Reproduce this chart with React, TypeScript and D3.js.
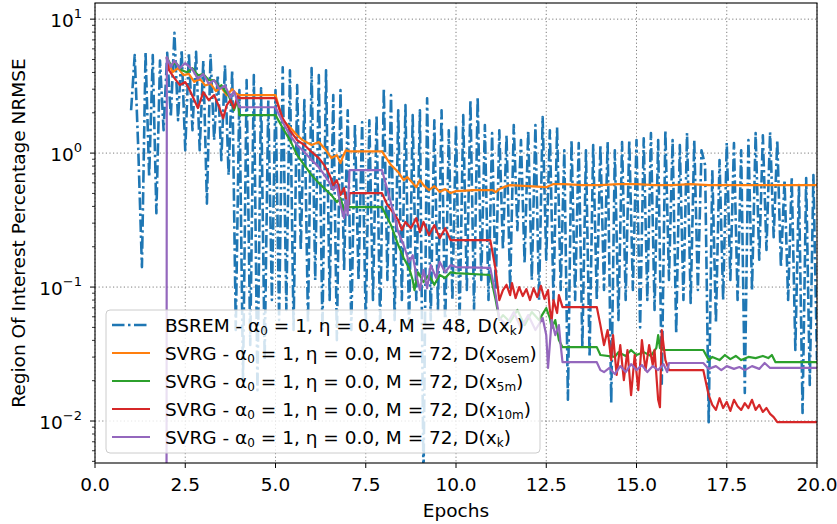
import React from "react";
import * as d3 from "d3";

// ---------- data ----------
const BSREM_START = 1.0;
const BSREM_STEP = 0.1;
const bsremValues = [
  2.09, 5.4, 1.05, 0.141, 5.7, 0.662, 5.4, 0.356, 4.9, 1.48,
  5.6, 1.86, 7.9, 1.76, 5.9, 1.05, 5.6, 1.48, 5.7, 1.05,
  4.9, 0.42, 5.4, 1.25, 3.82, 0.887, 4.54, 0.685, 4.16, 0.0478,
  2.95, 0.0202, 3.51, 0.0369, 3.82, 0.017, 3.05, 0.0285, 2.49, 0.08,
  2.95, 0.0567, 4.38, 0.0674, 4.16, 0.0478, 3.22, 0.189, 2.49, 0.054,
  4.31, 0.113, 3.82, 0.0478, 4.16, 0.08, 2.71, 0.0402, 2.95, 0.134,
  2.09, 0.0478, 1.62, 0.113, 1.70, 0.052, 1.76, 0.08, 1.92, 0.0478,
  3.05, 0.113, 2.71, 0.0567, 2.09, 0.08, 2.28, 0.0478, 1.92, 0.08,
  2.09, 0.0036, 2.57, 0.0567, 1.76, 0.0674, 2.09, 0.0478, 1.48, 0.08,
  1.62, 0.0567, 1.92, 0.095, 2.49, 0.0674, 2.62, 0.113, 1.62, 0.08,
  1.41, 0.095, 1.48, 0.189, 1.36, 0.095, 1.62, 0.266, 1.25, 0.151,
  1.48, 0.113, 1.62, 0.08, 1.86, 0.16, 1.48, 0.08, 1.56, 0.095,
  1.05, 0.0144, 1.25, 0.08, 1.19, 0.0356, 1.05, 0.0301, 1.15, 0.08,
  1.15, 0.095, 1.21, 0.0136, 1.05, 0.0567, 1.21, 0.08, 1.25, 0.095,
  1.25, 0.05, 1.29, 0.08, 1.41, 0.0674, 1.25, 0.019, 1.48, 0.113,
  1.25, 0.045, 1.15, 0.08, 1.41, 0.076, 1.25, 0.095, 1.05, 0.814,
  0.0098, 0.747, 0.054, 0.887, 0.08, 1.19, 0.113, 1.19, 0.08, 1.05,
  0.0162, 1.25, 0.095, 1.41, 0.16, 1.36, 0.189, 1.43, 0.236, 1.25,
  0.141, 0.629, 0.08, 0.662, 0.0339, 0.577, 0.0115, 0.651, 0.0186, 0.685,
  0.0285,
];

type Pt = [number, number];

const svrgOsem: Pt[] = [
  [1.99, 5.2], [2.05, 4.62], [2.15, 4.02], [2.3, 4.31], [2.45, 3.82], [2.6, 3.9], [2.75, 3.4],
  [2.9, 3.6], [3.05, 3.2], [3.2, 3.3], [3.35, 2.9], [3.5, 3.1], [3.65, 2.7], [3.8, 3.0],
  [3.9, 2.8], [4.0, 2.71], [5.0, 2.71], [5.2, 1.76], [5.4, 1.56], [5.6, 1.36], [5.75, 1.25],
  [6.0, 1.15], [6.2, 1.21], [6.4, 1.05], [6.55, 0.918], [6.7, 0.966], [6.8, 0.842],
  [6.85, 0.918], [6.95, 1.05], [7.05, 1.03], [7.95, 1.03], [8.2, 0.814], [8.4, 0.722],
  [8.55, 0.629], [8.65, 0.662], [8.8, 0.597], [8.9, 0.557], [9.0, 0.629], [9.1, 0.577],
  [9.25, 0.53], [9.4, 0.567], [9.55, 0.512], [9.7, 0.539], [9.85, 0.503], [10.0, 0.52],
  [10.5, 0.53], [11.0, 0.53], [11.1, 0.512], [11.2, 0.539], [11.4, 0.567], [11.5, 0.577],
  [12.0, 0.567], [12.5, 0.557], [12.7, 0.587], [13.0, 0.587], [13.5, 0.577], [14.0, 0.577],
  [14.5, 0.587], [15.0, 0.587], [15.5, 0.577], [16.0, 0.577], [16.5, 0.587], [17.0, 0.577],
  [18.0, 0.577], [19.0, 0.577], [20.0, 0.577],
];

const svrg5m: Pt[] = [
  [1.99, 5.2], [2.1, 4.54], [2.25, 4.7], [2.4, 4.16], [2.55, 4.02], [2.7, 4.3], [2.85, 3.8],
  [3.0, 3.9], [3.15, 3.5], [3.3, 3.51], [3.45, 3.1], [3.5, 3.22], [3.6, 2.9], [3.7, 2.71],
  [3.8, 2.3], [3.85, 2.09], [3.95, 2.49], [4.0, 1.92], [5.0, 1.92], [5.2, 1.54], [5.4, 1.25],
  [5.6, 0.966], [5.8, 0.814], [6.0, 0.685], [6.2, 0.597], [6.4, 0.53], [6.55, 0.486],
  [6.7, 0.431], [6.8, 0.462], [6.9, 0.376], [7.0, 0.409], [7.05, 0.395], [7.95, 0.395],
  [8.2, 0.29], [8.4, 0.206], [8.55, 0.165], [8.7, 0.139], [8.8, 0.113], [8.85, 0.095],
  [8.95, 0.129], [9.1, 0.109], [9.25, 0.123], [9.4, 0.104], [9.55, 0.123], [9.7, 0.117],
  [9.85, 0.129], [10.0, 0.127], [10.95, 0.123], [11.1, 0.08], [11.2, 0.0567], [11.3, 0.0618],
  [11.5, 0.0548], [11.7, 0.0674], [11.9, 0.052], [12.1, 0.0651], [12.3, 0.0567], [12.5, 0.0697],
  [12.6, 0.0587], [12.65, 0.0494], [12.75, 0.0567], [12.85, 0.0402], [12.95, 0.0356],
  [13.9, 0.0356], [14.0, 0.0311], [14.4, 0.0301], [14.5, 0.0327], [14.7, 0.0306],
  [14.85, 0.0339], [15.0, 0.0311], [15.2, 0.0327], [15.4, 0.0306], [15.55, 0.0351],
  [15.6, 0.0438], [15.65, 0.0351], [15.75, 0.0339], [16.85, 0.0339], [17.0, 0.0285],
  [17.1, 0.0301], [17.3, 0.0285], [17.45, 0.0311], [17.6, 0.029], [17.75, 0.0306],
  [17.9, 0.0285], [18.1, 0.0301], [18.3, 0.0295], [18.5, 0.0306], [18.65, 0.0295],
  [18.75, 0.0311], [18.85, 0.0275], [20.0, 0.0275],
];

const svrg10m: Pt[] = [
  [1.99, 5.2], [2.05, 4.16], [2.2, 3.63], [2.35, 3.22], [2.5, 3.39], [2.6, 3.05], [2.75, 2.49],
  [2.85, 2.17], [3.0, 2.85], [3.15, 2.49], [3.3, 2.71], [3.45, 2.17], [3.55, 1.82], [3.65, 2.28],
  [3.75, 2.49], [3.85, 2.17], [3.95, 2.66], [4.0, 2.57], [5.0, 2.57], [5.2, 1.82], [5.4, 1.48],
  [5.6, 1.25], [5.8, 1.15], [6.0, 1.02], [6.2, 0.918], [6.35, 0.814], [6.5, 0.685], [6.6, 0.577],
  [6.7, 0.629], [6.8, 0.486], [6.9, 0.548], [7.0, 0.376], [7.05, 0.503], [7.95, 0.503],
  [8.1, 0.409], [8.25, 0.363], [8.4, 0.316], [8.5, 0.266], [8.6, 0.306], [8.75, 0.275],
  [8.9, 0.327], [9.0, 0.257], [9.1, 0.306], [9.25, 0.244], [9.4, 0.29], [9.55, 0.232],
  [9.7, 0.275], [9.85, 0.224], [10.0, 0.224], [10.95, 0.224], [11.1, 0.134], [11.2, 0.08],
  [11.3, 0.095], [11.4, 0.104], [11.5, 0.0871], [11.55, 0.107], [11.65, 0.0828], [11.75, 0.1],
  [11.85, 0.0857], [11.95, 0.0966], [12.05, 0.08], [12.15, 0.098], [12.25, 0.0842],
  [12.35, 0.102], [12.45, 0.0814], [12.55, 0.095], [12.6, 0.0674], [12.65, 0.0567],
  [12.7, 0.08], [12.8, 0.064], [12.85, 0.0871], [12.95, 0.0709], [13.9, 0.0709], [14.0, 0.052],
  [14.1, 0.0369], [14.2, 0.0478], [14.3, 0.0285], [14.35, 0.0438], [14.45, 0.0221],
  [14.55, 0.0369], [14.65, 0.0202], [14.75, 0.0339], [14.85, 0.0156], [14.95, 0.0311],
  [15.05, 0.017], [15.15, 0.0402], [15.25, 0.024], [15.35, 0.0369], [15.45, 0.0262],
  [15.5, 0.0339], [15.6, 0.0144], [15.65, 0.0127], [15.7, 0.0478], [15.8, 0.0285],
  [15.9, 0.024], [16.85, 0.024], [17.0, 0.0156], [17.1, 0.0132], [17.2, 0.0121], [17.3, 0.0148],
  [17.4, 0.0125], [17.5, 0.0139], [17.6, 0.0119], [17.7, 0.0144], [17.8, 0.0129], [17.9, 0.0121],
  [18.0, 0.0136], [18.1, 0.0125], [18.2, 0.0144], [18.3, 0.0121], [18.4, 0.0132], [18.5, 0.0117],
  [18.6, 0.0125], [18.7, 0.0113], [18.8, 0.0107], [18.9, 0.0098], [20.0, 0.0098],
];

const svrgK: Pt[] = [
  [1.98, 0.001], [1.99, 5.2], [2.1, 4.4], [2.2, 4.9], [2.35, 4.3], [2.5, 4.7], [2.7, 4.2],
  [2.85, 3.6], [3.0, 3.9], [3.15, 3.3], [3.3, 3.5], [3.45, 3.0], [3.6, 3.2], [3.75, 2.6],
  [3.85, 2.9], [3.95, 2.4], [4.0, 2.2], [5.0, 2.2], [5.2, 1.7], [5.4, 1.36], [5.6, 1.15],
  [5.8, 1.02], [6.0, 0.887], [6.15, 0.814], [6.3, 0.722], [6.45, 0.629], [6.6, 0.53],
  [6.7, 0.577], [6.8, 0.409], [6.9, 0.327], [6.95, 0.446], [7.0, 0.345], [7.05, 0.747],
  [7.95, 0.747], [8.1, 0.53], [8.25, 0.376], [8.4, 0.257], [8.55, 0.206], [8.7, 0.154],
  [8.8, 0.173], [8.9, 0.123], [9.0, 0.095], [9.1, 0.134], [9.2, 0.098], [9.3, 0.146],
  [9.45, 0.117], [9.55, 0.154], [9.7, 0.129], [9.85, 0.146], [10.0, 0.141], [10.95, 0.139],
  [11.1, 0.0871], [11.2, 0.0587], [11.4, 0.052], [11.6, 0.0651], [11.8, 0.0494], [12.0, 0.0618],
  [12.2, 0.0478], [12.4, 0.0587], [12.5, 0.0438], [12.55, 0.0249], [12.65, 0.0567],
  [12.75, 0.0438], [12.85, 0.052], [12.9, 0.0369], [12.95, 0.0275], [13.9, 0.0275],
  [14.0, 0.024], [14.1, 0.0232], [14.25, 0.0249], [14.4, 0.0224], [14.55, 0.0257],
  [14.7, 0.0232], [14.85, 0.0266], [15.0, 0.024], [15.15, 0.0262], [15.3, 0.0232],
  [15.45, 0.0257], [15.6, 0.024], [15.75, 0.0266], [15.85, 0.0232], [15.9, 0.0271],
  [16.85, 0.0271], [17.0, 0.0245], [17.2, 0.0257], [17.35, 0.024], [17.5, 0.0257],
  [17.7, 0.0245], [17.85, 0.0253], [18.0, 0.024], [18.2, 0.0257], [18.4, 0.0245],
  [18.55, 0.0271], [18.7, 0.0249], [18.9, 0.0249], [20.0, 0.0249],
];

const xTicks = [0, 2.5, 5, 7.5, 10, 12.5, 15, 17.5, 20];
const yMajorExps = [-2, -1, 0, 1];

const legendLabels: { base: string; sub: string; end: string; subX: string }[] = [
  { base: "BSREM - α", sub: "0", end: " = 1, η = 0.4, M = 48, D(x", subX: "k" },
  { base: "SVRG - α", sub: "0", end: " = 1, η = 0.0, M = 72, D(x", subX: "osem" },
  { base: "SVRG - α", sub: "0", end: " = 1, η = 0.0, M = 72, D(x", subX: "5m" },
  { base: "SVRG - α", sub: "0", end: " = 1, η = 0.0, M = 72, D(x", subX: "10m" },
  { base: "SVRG - α", sub: "0", end: " = 1, η = 0.0, M = 72, D(x", subX: "k" },
];
const colors = ["#1f77b4", "#ff7f0e", "#2ca02c", "#d62728", "#9467bd"];

// ---------- layout ----------
const W = 837;
const H = 524;
const L = 95;
const R = 817;
const T = 3;
const B = 463;
const FONT = "DejaVu Sans, sans-serif";
const FS = 18.5;
const DASHDOT = "12.5,3.5,2.5,3.5";

export default function App() {
  const x = d3.scaleLinear().domain([0, 20]).range([L, R]);
  const y = d3.scaleLog().domain([0.00486, 13.2]).range([B, T]);

  const line = d3
    .line<Pt>()
    .x((d) => x(d[0]))
    .y((d) => y(Math.max(d[1], 1e-4)));

  const bsremPts: Pt[] = bsremValues.map((v, i) => [BSREM_START + i * BSREM_STEP, v]);
  const svrgSeries = [svrgOsem, svrg5m, svrg10m, svrgK];

  const minorTicks: number[] = [];
  for (let e = -3; e <= 1; e++) {
    for (let m = 2; m <= 9; m++) {
      const v = m * Math.pow(10, e);
      if (v >= 0.00486 && v <= 13.2) minorTicks.push(v);
    }
  }

  const legX = 106;
  const legY = 310;
  const rowH = 28;

  return (
    <div style={{ position: "absolute", left: 0, top: 0 }}>
      <svg width={W} height={H} style={{ display: "block", background: "#fff" }} fontFamily={FONT}>
        <defs>
          <clipPath id="plotClip">
            <rect x={L} y={T} width={R - L} height={B - T} />
          </clipPath>
        </defs>
        <rect x={0} y={0} width={W} height={H} fill="#fff" />
        {/* grid */}
        <g stroke="#6e6e6e" strokeWidth={0.9} strokeDasharray="1.2,2.4">
          {xTicks.map((t) => (
            <line key={"gx" + t} x1={x(t)} x2={x(t)} y1={T} y2={B} />
          ))}
          {yMajorExps.map((e) => (
            <line key={"gy" + e} x1={L} x2={R} y1={y(Math.pow(10, e))} y2={y(Math.pow(10, e))} />
          ))}
        </g>
        {/* series */}
        <g clipPath="url(#plotClip)" fill="none" strokeLinejoin="round">
          <path d={line(bsremPts) || ""} stroke={colors[0]} strokeWidth={2.6} strokeDasharray={DASHDOT} />
          {svrgSeries.map((s, i) => (
            <path key={i} d={line(s) || ""} stroke={colors[i + 1]} strokeWidth={2.2} />
          ))}
        </g>
        {/* frame */}
        <rect x={L} y={T} width={R - L} height={B - T} fill="none" stroke="#000" strokeWidth={1.1} />
        {/* x ticks */}
        {xTicks.map((t) => (
          <g key={"xt" + t}>
            <line x1={x(t)} x2={x(t)} y1={B} y2={B + 5} stroke="#000" strokeWidth={1} />
            <text x={x(t)} y={B + 28} textAnchor="middle" fontSize={FS} fill="#000">
              {t.toFixed(1)}
            </text>
          </g>
        ))}
        {/* y ticks */}
        {minorTicks.map((v, i) => (
          <line key={"ym" + i} x1={L - 3} x2={L} y1={y(v)} y2={y(v)} stroke="#000" strokeWidth={0.8} />
        ))}
        {yMajorExps.map((e) => (
          <g key={"yt" + e}>
            <line x1={L - 5} x2={L} y1={y(Math.pow(10, e))} y2={y(Math.pow(10, e))} stroke="#000" strokeWidth={1} />
            <text x={L - 13} y={y(Math.pow(10, e)) + 8} textAnchor="end" fontSize={FS} fill="#000">
              10
              <tspan dy={-9} fontSize={13}>
                {e < 0 ? "\u2212" + Math.abs(e) : String(e)}
              </tspan>
            </text>
          </g>
        ))}
        {/* axis labels */}
        <text x={x(10)} y={517} textAnchor="middle" fontSize={FS} fill="#000">
          Epochs
        </text>
        <text
          transform={`translate(25, ${(T + B) / 2}) rotate(-90)`}
          textAnchor="middle"
          fontSize={FS}
          fill="#000"
        >
          Region Of Interest Percentage NRMSE
        </text>
        {/* legend */}
        <rect
          x={legX}
          y={legY}
          width={434}
          height={143}
          rx={4}
          fill="#fff"
          fillOpacity={0.8}
          stroke="#cccccc"
          strokeWidth={1}
        />
        {legendLabels.map((lab, i) => {
          const cy = legY + 15 + i * rowH;
          return (
            <g key={"lg" + i}>
              <line
                x1={legX + 6}
                x2={legX + 44}
                y1={cy}
                y2={cy}
                stroke={colors[i]}
                strokeWidth={i === 0 ? 2.6 : 2.2}
                strokeDasharray={i === 0 ? DASHDOT : undefined}
              />
              <text x={legX + 59} y={cy + 6.5} fontSize={FS} fill="#000">
                {lab.base}
                <tspan fontSize={12} dy={3}>{lab.sub}</tspan>
                <tspan dy={-3}>{lab.end}</tspan>
                <tspan fontSize={12} dy={3}>{lab.subX}</tspan>
                <tspan dy={-3}>)</tspan>
              </text>
            </g>
          );
        })}
      </svg>
    </div>
  );
}
